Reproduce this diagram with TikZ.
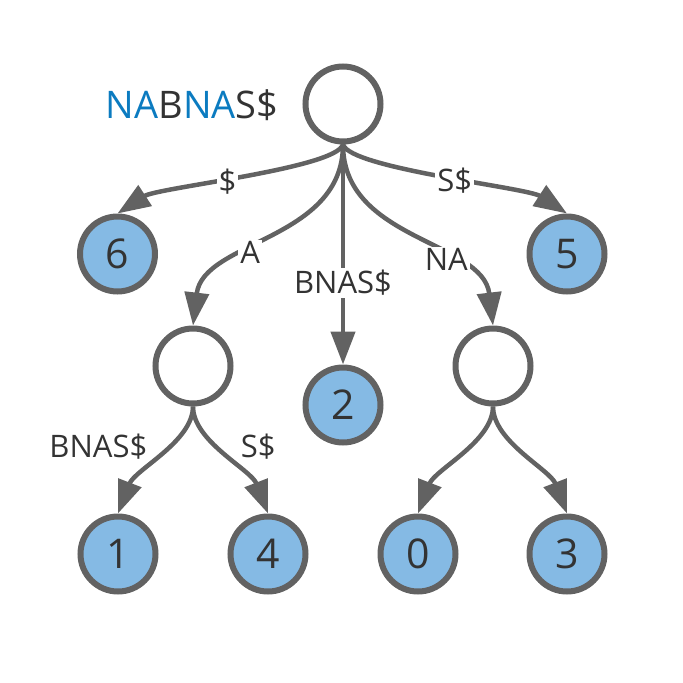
\documentclass[tikz,border=0pt]{standalone}
\usepackage{fontspec}
\setmainfont{Open Sans}
\usetikzlibrary{arrows.meta}
\definecolor{edgegray}{HTML}{626262}
\definecolor{leafblue}{HTML}{85BAE4}
\definecolor{txt}{HTML}{333333}
\definecolor{hl}{HTML}{0B7BC0}
\begin{document}
\begin{tikzpicture}[x=1pt,y=-1pt,
  inner/.style={circle, draw=edgegray, line width=6pt, fill=white, minimum size=75pt, inner sep=0pt},
  leaf/.style={inner, fill=leafblue, text=txt, font=\fontsize{41}{41}\selectfont},
  lbl/.style={fill=white, text=txt, font=\fontsize{31}{31}\selectfont, inner sep=2pt},
  sidelbl/.style={text=txt, font=\fontsize{31}{31}\selectfont, inner sep=2pt},
  edge/.style={draw=edgegray, line width=4.5pt, -{Triangle[length=33pt,width=24pt]}}]
\useasboundingbox (0,0) rectangle (683,683);
\node[anchor=base, font=\fontsize{38}{38}\selectfont] (title) at (192,118)
  {\textcolor{hl}{NA}\textcolor{txt}{B}\textcolor{hl}{NA}\textcolor{txt}{S\$}};
\node[inner] (root) at (343,104) {};
\node[leaf] (n6) at (117.5,254) {6};
\node[leaf] (n5) at (567,254) {5};
\node[inner] (intL) at (193,366) {};
\node[leaf] (n2) at (343,405) {2};
\node[inner] (intR) at (493,366) {};
\node[leaf] (n1) at (118,554) {1};
\node[leaf] (n4) at (268,554) {4};
\node[leaf] (n0) at (418,554) {0};
\node[leaf] (n3) at (567,554) {3};

\draw[edge] (root.south) .. controls +(-7,24) and +(40,-26) .. node[lbl,pos=0.55]{\$} (n6.north);
\draw[edge] (root.south) .. controls +(0,96) and +(10,-85) .. node[lbl,pos=0.6]{A} (intL.north);
\draw[edge] (root.south) -- node[lbl,pos=0.63]{BNAS\$} (n2.north);
\draw[edge] (root.south) .. controls +(0,96) and +(-10,-85) .. node[lbl,pos=0.65]{NA} (intR.north);
\draw[edge] (root.south) .. controls +(7,24) and +(-40,-26) .. node[lbl,pos=0.54]{S\$} (n5.north);

\draw[edge] (intL.south) .. controls +(0,35) and +(17,-44) .. node[sidelbl,pos=0.4,left=20pt]{BNAS\$} (n1.north);
\draw[edge] (intL.south) .. controls +(0,35) and +(-17,-44) .. node[sidelbl,pos=0.4,right=22pt]{S\$} (n4.north);
\draw[edge] (intR.south) .. controls +(0,35) and +(17,-44) .. (n0.north);
\draw[edge] (intR.south) .. controls +(0,35) and +(-17,-44) .. (n3.north);
\end{tikzpicture}
\end{document}
